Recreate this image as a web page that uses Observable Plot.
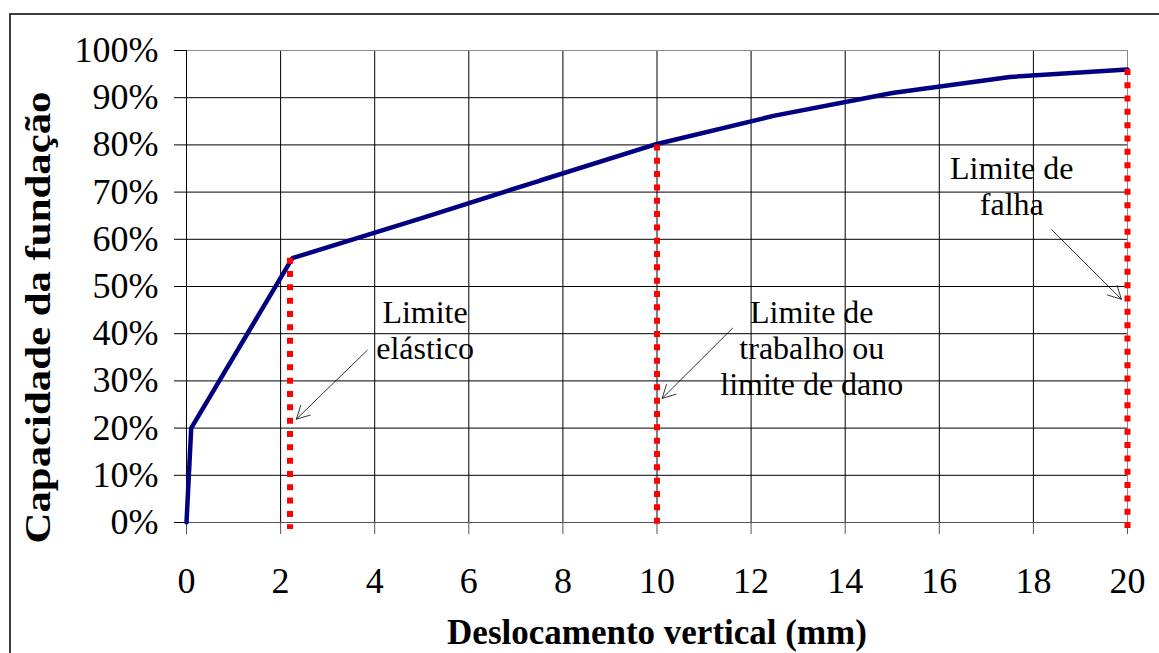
<!DOCTYPE html>
<html>
<head>
<meta charset="utf-8">
<script src="https://cdn.jsdelivr.net/npm/d3@7"></script>
<script src="https://cdn.jsdelivr.net/npm/@observablehq/plot@0.6"></script>
<style>
  html, body { margin: 0; padding: 0; background: white; overflow: hidden; }
  #wrap { position: relative; width: 1159px; height: 653px; overflow: hidden; }
  #border { position: absolute; left: 9px; top: 13px; width: 1300px; height: 900px;
            border: 2px solid #3c3c3c; pointer-events: none; }
</style>
</head>
<body>
<div id="wrap"><div id="chart"></div><div id="border"></div></div>
<script>
// Curve data
const displacement = [0, 0.1, 2.25, 5, 7.5, 10, 12.5, 15, 17.5, 20];
const capacity     = [0, 0.20, 0.56, 0.645, 0.724, 0.802, 0.862, 0.91, 0.944, 0.96];

// Limit lines (red dotted)
const limitX = [2.2, 10, 20];
const limitY = [0.56, 0.80, 0.96];

// Tick values
const xTicks = [0, 2, 4, 6, 8, 10, 12, 14, 16, 18, 20];
const yTicks = [0, 0.1, 0.2, 0.3, 0.4, 0.5, 0.6, 0.7, 0.8, 0.9, 1.0];

// Annotations
const noteText = ["Limite\nelástico", "Limite de\ntrabalho ou\nlimite de dano", "Limite de\nfalha"];
const noteX = [5.07, 13.29, 17.54];
const noteY = [0.477, 0.477, 0.782];
const arrowX1 = [3.843, 11.61, 18.39];
const arrowY1 = [0.365, 0.412, 0.620];
const arrowX2 = [2.335, 10.11, 19.87];
const arrowY2 = [0.219, 0.263, 0.473];

const xTitle = "Deslocamento vertical (mm)";
const yTitle = "Capacidade da fundação";

const curve = displacement.map((d, i) => ({x: d, y: capacity[i]}));
const limits = limitX.map((d, i) => ({x: d, y: limitY[i]}));
const notes = noteText.map((t, i) => ({t, x: noteX[i], y: noteY[i]}));
const arrows = arrowX1.map((d, i) => ({x1: d, y1: arrowY1[i], x2: arrowX2[i], y2: arrowY2[i]}));

const chart = Plot.plot({
  width: 1159,
  height: 653,
  marginLeft: 186,
  marginRight: 32,
  marginTop: 50,
  marginBottom: 131,
  style: {
    fontFamily: '"Liberation Serif", "Times New Roman", serif',
    fontSize: "36px",
    background: "white",
    color: "black",
    overflow: "visible"
  },
  x: {domain: [0, 20]},
  y: {domain: [0, 1]},
  marks: [
    Plot.gridX(xTicks.slice(1, -1), {stroke: "black", strokeOpacity: 1}),
    Plot.gridY(yTicks.slice(1, -1), {stroke: "black", strokeOpacity: 1}),
    Plot.frame({stroke: "#8a8a8a"}),
    Plot.ruleX([0], {stroke: "black"}),
    Plot.ruleY([0], {stroke: "#555"}),
    Plot.axisX({ticks: xTicks, tickSize: 12, tickPadding: 33, stroke: "#555", label: null,
                tickFormat: d => String(d)}),
    Plot.axisY({ticks: yTicks, tickSize: 12, tickPadding: 16, label: null,
                tickFormat: d => Math.round(d * 100) + "%"}),
    Plot.line(curve, {x: "x", y: "y", stroke: "#000080", strokeWidth: 4.5, strokeLinejoin: "miter"}),
    Plot.ruleX(limits, {x: "x", y1: "y", y2: () => -0.015, stroke: "#ff0000",
                        strokeWidth: 6, strokeDasharray: "6,7.33"}),
    Plot.arrow(arrows, {x1: "x1", y1: "y1", x2: "x2", y2: "y2", stroke: "black",
                        strokeWidth: 0.8, headLength: 27, headAngle: 56}),
    Plot.text(notes, {x: "x", y: "y", text: "t", fontSize: 32, lineHeight: 1.13,
                      lineAnchor: "top", textAnchor: "middle", fill: "black"}),
    Plot.text([xTitle], {text: d => d, frameAnchor: "bottom", textAnchor: "middle", dy: 121,
                         fontWeight: "bold", fontSize: 35, fill: "black"}),
    Plot.text([yTitle], {text: d => d, frameAnchor: "left", textAnchor: "middle", dx: -148, dy: 31,
                         rotate: -90, fontWeight: "bold", fontSize: 35, fill: "black"})
  ]
});
document.getElementById("chart").appendChild(chart);
// The reference's vertical title is stretched along its length
d3.select(chart).selectAll("text")
  .filter(function() { return this.textContent === yTitle; })
  .attr("textLength", 452)
  .attr("lengthAdjust", "spacingAndGlyphs");
</script>
</body>
</html>
